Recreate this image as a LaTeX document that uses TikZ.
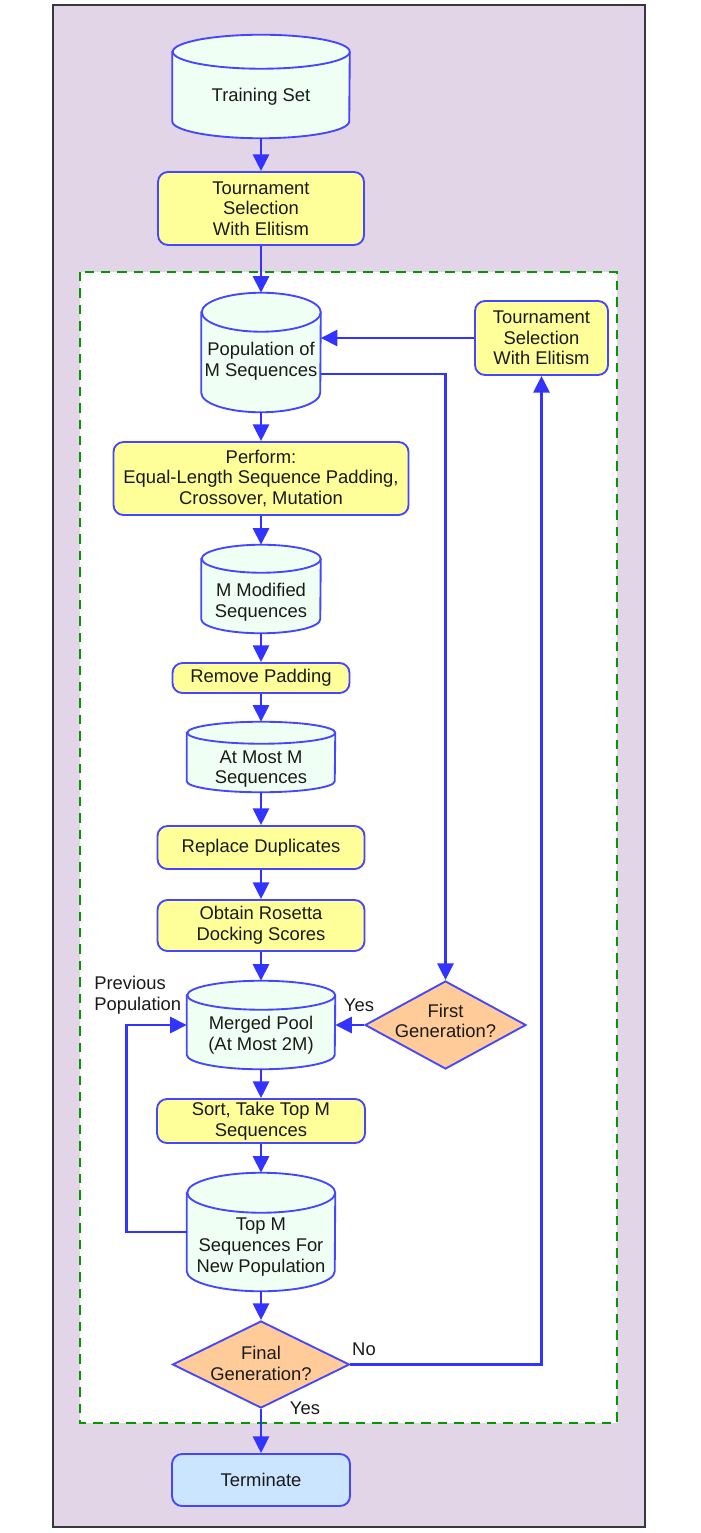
\documentclass[tikz,border=0pt]{standalone}
\usepackage{fontspec}
\setmainfont{Liberation Sans}
\usetikzlibrary{shapes.geometric,arrows.meta,calc}
\pgfdeclarelayer{bg}
\pgfsetlayers{bg,main}
\definecolor{bgpurple}{HTML}{E1D5E7}
\definecolor{framegray}{HTML}{36393D}
\definecolor{boxyellow}{HTML}{FFFF99}
\definecolor{cylfill}{HTML}{F0FFF4}
\definecolor{strokeblue}{HTML}{4646FF}
\definecolor{arrowblue}{HTML}{3333FF}
\definecolor{diafill}{HTML}{FFCC99}
\definecolor{termblue}{HTML}{CCE5FF}
\definecolor{dashgreen}{HTML}{009900}
\definecolor{txt}{HTML}{1A1A1A}
% name, cx, cy (px, down), width, height, ry, text shift, text
\newcommand\mycylinder[8]{%
  \node[cylnode, minimum width=#4*0.75pt, minimum height=#5*0.75pt] (#1) at (#2,-#3) {};
  \node[lbl] (#1t) at (#2,-#3-#7) {#8};
  \begin{pgfonlayer}{bg}
    \path[cylshape] ($(#1.north west)+(0,-#6)$) -- ($(#1.south west)+(0,#6)$)
      arc[start angle=180, end angle=360, x radius=#4*0.375pt, y radius=#6*0.75pt]
      -- ($(#1.north east)+(0,-#6)$)
      arc[start angle=0, end angle=180, x radius=#4*0.375pt, y radius=#6*0.75pt] -- cycle;
    \draw[cylshape, fill=none] ($(#1.north east)+(0,-#6)$)
      arc[start angle=0, end angle=-180, x radius=#4*0.375pt, y radius=#6*0.75pt];
  \end{pgfonlayer}}
\begin{document}
\begin{tikzpicture}[x=0.75pt,y=0.75pt,
  every node/.style={font=\fontsize{13.8}{15.5}\selectfont, align=center, text=txt},
  proc/.style={rectangle, rounded corners=7.5pt, draw=strokeblue, line width=1.4pt, fill=boxyellow, inner sep=0pt},
  cylnode/.style={rectangle, inner sep=0pt},
  cylshape/.style={draw=strokeblue, line width=1.4pt, fill=cylfill},
  decision/.style={diamond, draw=strokeblue, line width=1.4pt, fill=diafill, inner sep=0pt},
  term/.style={proc, fill=termblue},
  arr/.style={draw=arrowblue, line width=2.2pt, -{Triangle[length=12.5pt,width=12pt]}},
  lbl/.style={inner sep=0pt},
]
\useasboundingbox (0,0) rectangle (700,-1533);
\begin{pgfonlayer}{bg}
  \fill[white] (0,0) rectangle (700,-1533);
  \draw[draw=framegray, fill=bgpurple, line width=1.3pt] (53,-5) rectangle (645,-1527);
  \draw[draw=dashgreen, fill=white, line width=2.2pt, dash pattern=on 7pt off 5.3pt] (80,-272) rectangle (617,-1423);
\end{pgfonlayer}

\mycylinder{ts}{261}{86.5}{177}{103}{17}{10}{Training Set}
\node[proc, minimum width=154.5pt, minimum height=54.75pt] (t1) at (261,-208.5) {Tournament\\Selection\\With Elitism};
\mycylinder{pop}{261}{352.5}{119}{119}{19.5}{9}{Population of\\M Sequences}
\node[proc, minimum width=99.75pt, minimum height=55.5pt] (t2) at (541.5,-338) {Tournament\\Selection\\With Elitism};
\node[proc, minimum width=221.25pt, minimum height=54.75pt] (perf) at (261,-478.5) {Perform:\\Equal-Length Sequence Padding,\\Crossover, Mutation};
\mycylinder{mmod}{261}{589}{119}{88}{14}{13}{M Modified\\Sequences}
\node[proc, minimum width=132.75pt, minimum height=22.5pt] (rp) at (261,-678) {Remove Padding};
\mycylinder{amm}{261}{757}{148}{70}{11}{12}{At Most M\\Sequences}
\node[proc, minimum width=155.25pt, minimum height=32.25pt] (rd) at (261,-847.5) {Replace Duplicates};
\node[proc, minimum width=155.25pt, minimum height=38.25pt] (ors) at (261,-925.5) {Obtain Rosetta\\Docking Scores};
\mycylinder{mp}{261}{1025}{148}{88}{14.5}{10}{Merged Pool\\(At Most 2M)}
\node[decision, minimum width=120.75pt, minimum height=66pt] (fg) at (445.5,-1025) {};
\node[lbl] (fgt) at (445.5,-1021) {First\\Generation?};
\node[proc, minimum width=156pt, minimum height=33pt] (sort) at (261,-1121) {Sort, Take Top M\\Sequences};
\mycylinder{topm}{261}{1232}{148}{118}{20}{15}{Top M\\Sequences For\\New Population}
\node[decision, minimum width=132.75pt, minimum height=65.25pt] (fin) at (261,-1364.5) {};
\node[lbl] (fint) at (261,-1363.5) {Final\\Generation?};
\node[term, minimum width=133.5pt, minimum height=39pt] (term) at (261,-1480) {Terminate};

\node[lbl] (yes1) at (359,-1005) {Yes};
\node[lbl, anchor=west, align=left] (prev) at (94,-995.5) {Previous\\Population};
\node[lbl] (no) at (364,-1349) {No};
\node[lbl] (yes2) at (305,-1408) {Yes};

\draw[arr] (ts) -- (t1);
\draw[arr] (t1) -- (pop);
\draw[arr] (t2.west) -- (t2.west -| pop.east);
\draw[arr] ($(pop.east)+(0,-21.5)$) -| (fg.north);
\draw[arr] (pop) -- (perf);
\draw[arr] (perf) -- (mmod);
\draw[arr] (mmod) -- (rp);
\draw[arr] (rp) -- (amm);
\draw[arr] (amm) -- (rd);
\draw[arr] (rd) -- (ors);
\draw[arr] (ors) -- (mp);
\draw[arr] (fg.west) -- (fg.west -| mp.east);
\draw[arr] (mp) -- (sort);
\draw[arr] (sort) -- (topm);
\draw[arr] (topm.west) -- ++(-60,0) |- (mp.west);
\draw[arr] (topm) -- (fin);
\draw[arr] (fin) -- (term);
\draw[arr] (fin.east) -| (t2.south);
\end{tikzpicture}
\end{document}
